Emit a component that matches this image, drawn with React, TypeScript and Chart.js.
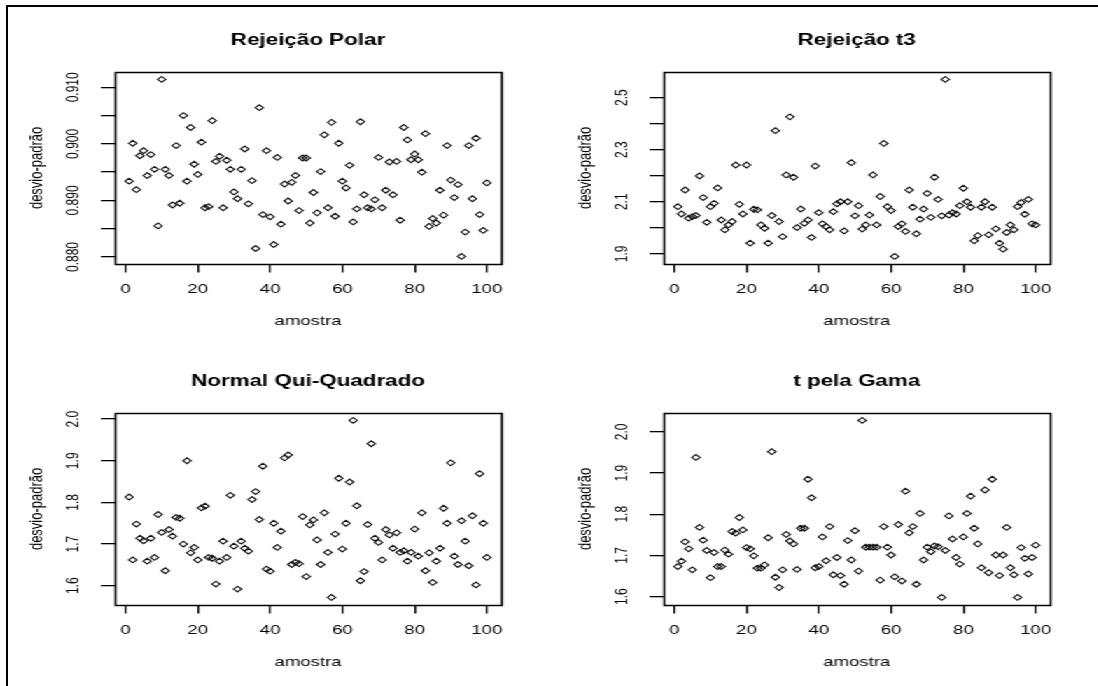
import React, { useEffect, useRef } from "react";
import { Chart, registerables } from "chart.js";

Chart.register(...registerables);

const FONT = "'Liberation Sans', Arial, Helvetica, sans-serif";

// ---------------- data ----------------
const sampleIndex: number[] = Array.from({ length: 100 }, (_, i) => i + 1);

const polarValues = [
  0.8934, 0.9001, 0.8919, 0.8979, 0.8988, 0.8944, 0.8981, 0.8955, 0.8855, 0.9114,
  0.8955, 0.8944, 0.8892, 0.8997, 0.8895, 0.905, 0.8934, 0.9029, 0.8964, 0.8946,
  0.9003, 0.8887, 0.8889, 0.9041, 0.8969, 0.8978, 0.8887, 0.8971, 0.8955, 0.8915,
  0.8903, 0.8955, 0.8991, 0.8894, 0.8935, 0.8815, 0.9064, 0.8875, 0.8988, 0.8871,
  0.8822, 0.8976, 0.8858, 0.8929, 0.8899, 0.8932, 0.8944, 0.8882, 0.8975, 0.8975,
  0.886, 0.8914, 0.8878, 0.8951, 0.9016, 0.8887, 0.9038, 0.8872, 0.9001, 0.8934,
  0.8922, 0.8962, 0.8862, 0.8885, 0.9039, 0.891, 0.8887, 0.8885, 0.8901, 0.8976,
  0.8887, 0.8918, 0.8968, 0.891, 0.8969, 0.8865, 0.9029, 0.9007, 0.8972, 0.8982,
  0.8972, 0.895, 0.9018, 0.8854, 0.8868, 0.886, 0.8918, 0.8874, 0.8997, 0.8936,
  0.8905, 0.8928, 0.8801, 0.8844, 0.8997, 0.8903, 0.901, 0.8875, 0.8847, 0.8931,
];

const t3Values = [
  2.081, 2.053, 2.145, 2.037, 2.043, 2.047, 2.199, 2.116, 2.021, 2.081,
  2.094, 2.153, 2.03, 1.992, 2.011, 2.024, 2.241, 2.09, 2.053, 2.241,
  1.941, 2.071, 2.069, 2.011, 1.998, 1.941, 2.047, 2.373, 2.024, 1.966,
  2.203, 2.426, 2.194, 2.001, 2.072, 2.017, 2.03, 1.963, 2.237, 2.058,
  2.015, 2.005, 1.992, 2.062, 2.092, 2.1, 1.988, 2.1, 2.25, 2.046,
  2.085, 1.995, 2.011, 2.049, 2.203, 2.011, 2.12, 2.324, 2.081, 2.066,
  1.89, 2.005, 2.015, 1.986, 2.145, 2.079, 1.977, 2.033, 2.072, 2.132,
  2.04, 2.194, 2.109, 2.046, 2.57, 2.049, 2.058, 2.053, 2.085, 2.152,
  2.1, 2.079, 1.95, 1.97, 2.079, 2.1, 1.973, 2.079, 1.996, 1.941,
  1.918, 1.982, 2.011, 1.992, 2.081, 2.097, 2.052, 2.109, 2.015, 2.011,
];

const normalChiValues = [
  1.813, 1.662, 1.748, 1.714, 1.708, 1.659, 1.714, 1.668, 1.771, 1.728,
  1.636, 1.735, 1.719, 1.764, 1.762, 1.7, 1.9, 1.679, 1.692, 1.662,
  1.787, 1.791, 1.668, 1.666, 1.604, 1.659, 1.707, 1.668, 1.817, 1.695,
  1.592, 1.707, 1.69, 1.683, 1.807, 1.826, 1.759, 1.887, 1.64, 1.635,
  1.75, 1.692, 1.731, 1.907, 1.914, 1.651, 1.656, 1.653, 1.766, 1.622,
  1.746, 1.758, 1.71, 1.651, 1.775, 1.68, 1.572, 1.724, 1.858, 1.688,
  1.75, 1.849, 1.997, 1.792, 1.612, 1.634, 1.747, 1.941, 1.714, 1.704,
  1.662, 1.735, 1.722, 1.69, 1.727, 1.68, 1.684, 1.659, 1.68, 1.736,
  1.671, 1.775, 1.636, 1.679, 1.608, 1.659, 1.69, 1.786, 1.75, 1.895,
  1.671, 1.651, 1.756, 1.707, 1.648, 1.768, 1.602, 1.869, 1.75, 1.668,
];

const tGammaValues = [
  1.673, 1.686, 1.733, 1.716, 1.665, 1.938, 1.768, 1.737, 1.712, 1.646,
  1.707, 1.673, 1.673, 1.713, 1.703, 1.758, 1.754, 1.792, 1.762, 1.719,
  1.716, 1.699, 1.669, 1.669, 1.677, 1.743, 1.952, 1.647, 1.622, 1.665,
  1.751, 1.735, 1.728, 1.666, 1.766, 1.766, 1.885, 1.84, 1.67, 1.673,
  1.745, 1.687, 1.77, 1.653, 1.695, 1.651, 1.63, 1.736, 1.689, 1.76,
  1.662, 2.028, 1.72, 1.72, 1.72, 1.72, 1.64, 1.77, 1.72, 1.701,
  1.648, 1.775, 1.638, 1.856, 1.755, 1.77, 1.63, 1.802, 1.689, 1.72,
  1.709, 1.723, 1.721, 1.598, 1.712, 1.796, 1.74, 1.695, 1.679, 1.745,
  1.802, 1.844, 1.766, 1.728, 1.67, 1.859, 1.658, 1.885, 1.701, 1.651,
  1.701, 1.768, 1.67, 1.653, 1.598, 1.719, 1.693, 1.655, 1.695, 1.725,
];

const panelTitles = ["Rejeição Polar", "Rejeição t3", "Normal Qui-Quadrado", "t pela Gama"];
const xAxisTitle = "amostra";
const yAxisTitle = "desvio-padrão";
const xTickValues = [0, 20, 40, 60, 80, 100];

const polarTicks = [0.88, 0.885, 0.89, 0.895, 0.9, 0.905, 0.91];
const polarLabelled = [0.88, 0.89, 0.9, 0.91];
const t3Ticks = [1.9, 2.0, 2.1, 2.2, 2.3, 2.4, 2.5];
const t3Labelled = [1.9, 2.1, 2.3, 2.5];
const normalChiTicks = [1.6, 1.7, 1.8, 1.9, 2.0];
const tGammaTicks = [1.6, 1.7, 1.8, 1.9, 2.0];

// ---------------- layout ----------------
const STRETCH = 1.4; // the reference is stretched horizontally
const PAGE_W = 1098;
const PAGE_H = 686;
const CANVAS_W = 392;
const CANVAS_H = 343;
const AREA_LEFT = 82;
const AREA_RIGHT = 358;
const AREA_TOP = 72.3;
const AREA_BOTTOM = 263.5;
const Y_LABEL_CENTER = 52.5;
const Y_TICK_LEN = 10;
const X_TICK_LEN = 9;

const TICK_FONT_SIZE = 13.3;
const Y_TICK_FONT_SIZE = 12;
const Y_TITLE_FONT_SIZE = 13;
const TITLE_FONT_SIZE = 16;

function measure(text: string, font: string): number {
  const ctx = document.createElement("canvas").getContext("2d");
  if (!ctx) return text.length * 6;
  ctx.font = font;
  return ctx.measureText(text).width;
}

const boxPlugin = {
  id: "plotBox",
  afterDatasetsDraw(chart: any) {
    const { ctx, chartArea: a } = chart;
    ctx.save();
    ctx.strokeStyle = "#000";
    ctx.lineWidth = 1.5;
    ctx.strokeRect(
      Math.round(a.left) + 0.5,
      Math.round(a.top) + 0.5,
      Math.round(a.right) - Math.round(a.left),
      Math.round(a.bottom) - Math.round(a.top)
    );
    ctx.restore();
  },
};

type PanelProps = {
  title: string;
  values: number[];
  ticks: number[];
  labelled: number[];
  decimals: number;
  left: number;
  top: number;
};

function Panel({ title, values, ticks, labelled, decimals, left, top }: PanelProps) {
  const ref = useRef<HTMLCanvasElement | null>(null);

  useEffect(() => {
    const canvas = ref.current;
    if (!canvas) return;
    const lo = Math.min(...values);
    const hi = Math.max(...values);
    const ext = 0.04 * (hi - lo);
    const xExt = 0.04 * (sampleIndex[sampleIndex.length - 1] - sampleIndex[0]);
    const fmt = (v: number) => v.toFixed(decimals);
    const isLabelled = (v: number) => labelled.some((l) => Math.abs(l - v) < 1e-9);
    const widest = Math.max(
      ...labelled.map((v) => measure(fmt(v), `${Y_TICK_FONT_SIZE}px ${FONT}`))
    );
    const yPad = AREA_LEFT - Y_TICK_LEN - Y_LABEL_CENTER - widest / 2;
    const titleLH = TITLE_FONT_SIZE * 1.2;
    const titleTop = 41 - titleLH / 2;

    const chart = new Chart(canvas, {
      type: "scatter",
      data: {
        datasets: [
          {
            data: values.map((v, i) => ({ x: sampleIndex[i], y: v })),
            pointStyle: "rectRot",
            pointRadius: 2.9,
            pointHoverRadius: 2.9,
            pointBorderWidth: 1.1,
            borderColor: "#111",
            backgroundColor: "rgba(0,0,0,0)",
          },
        ],
      },
      options: {
        animation: false,
        responsive: false,
        devicePixelRatio: 1,
        events: [],
        layout: { padding: { left: 0, right: CANVAS_W - AREA_RIGHT, top: 0, bottom: 0 } },
        plugins: {
          legend: { display: false },
          tooltip: { enabled: false },
          title: {
            display: true,
            text: title,
            fullSize: false,
            color: "#000",
            font: { family: FONT, size: TITLE_FONT_SIZE, weight: "bold", lineHeight: 1.2 },
            padding: { top: titleTop, bottom: AREA_TOP - titleTop - titleLH },
          },
        },
        scales: {
          x: {
            type: "linear",
            min: sampleIndex[0] - xExt,
            max: sampleIndex[sampleIndex.length - 1] + xExt,
            afterBuildTicks: (s: any) => {
              s.ticks = xTickValues.map((v) => ({ value: v }));
            },
            afterFit: (s: any) => {
              s.height = CANVAS_H - AREA_BOTTOM;
            },
            ticks: {
              autoSkip: false,
              minRotation: 0,
              maxRotation: 0,
              padding: 9,
              color: "#000",
              font: { family: FONT, size: TICK_FONT_SIZE, lineHeight: 1.2 },
              callback: (v: any) => String(v),
            },
            grid: {
              display: true,
              drawOnChartArea: false,
              drawTicks: true,
              tickLength: X_TICK_LEN,
              color: "#000",
              lineWidth: 1.3,
            },
            border: { display: false },
            title: {
              display: true,
              text: xAxisTitle,
              color: "#000",
              font: { family: FONT, size: TICK_FONT_SIZE, lineHeight: 1.2 },
              padding: { top: 0, bottom: 14 },
            },
          },
          y: {
            type: "linear",
            min: lo - ext,
            max: hi + ext,
            afterBuildTicks: (s: any) => {
              s.ticks = ticks.map((v) => ({ value: v }));
            },
            afterFit: (s: any) => {
              s.width = AREA_LEFT;
            },
            ticks: {
              autoSkip: false,
              minRotation: 90,
              maxRotation: 90,
              crossAlign: "center",
              padding: yPad,
              color: "#000",
              font: { family: FONT, size: Y_TICK_FONT_SIZE, lineHeight: 1.2 },
              callback: (v: any) => (isLabelled(Number(v)) ? fmt(Number(v)) : ""),
            },
            grid: {
              display: true,
              drawOnChartArea: false,
              drawTicks: true,
              tickLength: Y_TICK_LEN,
              color: "#000",
              lineWidth: 1.3,
            },
            border: { display: false },
            title: {
              display: true,
              text: yAxisTitle,
              color: "#000",
              font: { family: FONT, size: Y_TITLE_FONT_SIZE, lineHeight: 1.2 },
              padding: { top: 26.5 - (Y_TITLE_FONT_SIZE * 1.2) / 2, bottom: 0 },
            },
          },
        },
      } as any,
      plugins: [boxPlugin],
    });
    return () => chart.destroy();
  }, [title, values, ticks, labelled, decimals]);

  return (
    <canvas
      ref={ref}
      width={CANVAS_W}
      height={CANVAS_H}
      style={{
        position: "absolute",
        left,
        top,
        width: CANVAS_W,
        height: CANVAS_H,
        display: "block",
      }}
    />
  );
}

export default function App() {
  return (
    <div
      style={{
        position: "fixed",
        left: 0,
        top: 0,
        width: PAGE_W,
        height: PAGE_H,
        background: "#fff",
        overflow: "hidden",
      }}
    >
      <div
        style={{
          position: "absolute",
          left: 6,
          top: 5,
          width: 3000,
          height: 3000,
          borderTop: "2px solid #000",
          borderLeft: "2px solid #000",
        }}
      />
      <div
        style={{
          position: "absolute",
          left: 0,
          top: 0,
          width: PAGE_W / STRETCH,
          height: PAGE_H,
          transform: `scaleX(${STRETCH})`,
          transformOrigin: "0 0",
        }}
      >
        <Panel title={panelTitles[0]} values={polarValues} ticks={polarTicks} labelled={polarLabelled} decimals={3} left={0} top={0} />
        <Panel title={panelTitles[1]} values={t3Values} ticks={t3Ticks} labelled={t3Labelled} decimals={1} left={CANVAS_W} top={0} />
        <Panel title={panelTitles[2]} values={normalChiValues} ticks={normalChiTicks} labelled={normalChiTicks} decimals={1} left={0} top={341} />
        <Panel title={panelTitles[3]} values={tGammaValues} ticks={tGammaTicks} labelled={tGammaTicks} decimals={1} left={CANVAS_W} top={341} />
      </div>
    </div>
  );
}
